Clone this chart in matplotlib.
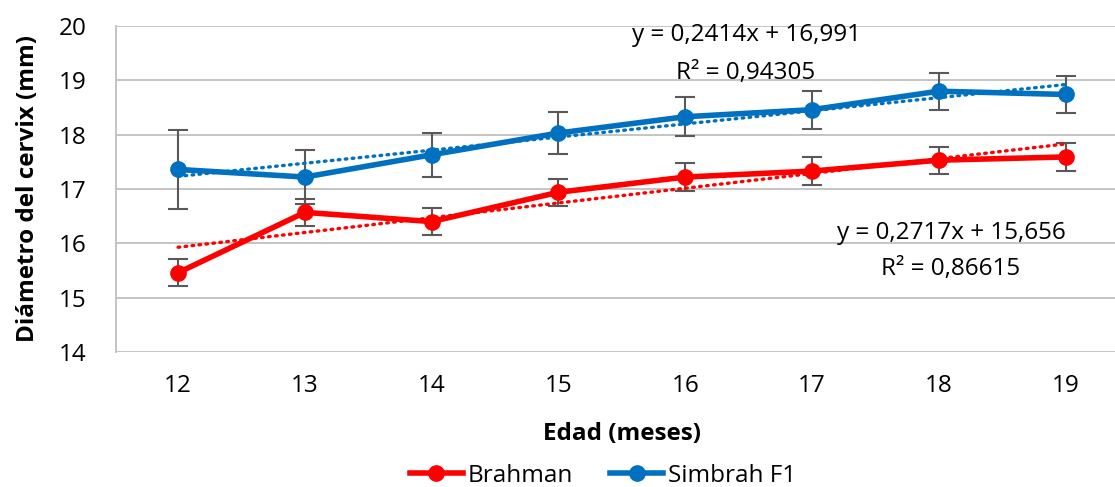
import matplotlib
matplotlib.use("Agg")
import matplotlib.pyplot as plt
from matplotlib.lines import Line2D
import numpy as np

plt.rcParams['font.family'] = ['Open Sans', 'DejaVu Sans']

edad = [12, 13, 14, 15, 16, 17, 18, 19]
brahman = [15.46, 16.57, 16.40, 16.94, 17.22, 17.33, 17.53, 17.59]
brahman_err = [0.25, 0.25, 0.25, 0.25, 0.25, 0.25, 0.25, 0.25]
simbrah = [17.36, 17.22, 17.63, 18.03, 18.33, 18.46, 18.80, 18.74]
simbrah_err = [0.73, 0.50, 0.40, 0.38, 0.36, 0.35, 0.34, 0.34]
brahman_fit = [0.2717, 15.656]
simbrah_fit = [0.2414, 16.991]
brahman_eq = ["y = 0,2717x + 15,656", "R² = 0,86615"]
simbrah_eq = ["y = 0,2414x + 16,991", "R² = 0,94305"]

RED = '#FF0000'
BLUE = '#0070C0'
ERR = '#595959'
GRID = '#BFBFBF'
FS = 17.5

fig = plt.figure(figsize=(11.15, 4.87), dpi=100)
ax = fig.add_axes([116/1115, 1-352/487, 1-116/1115, (352-26)/487])

for vals, err, col, lab in [(brahman, brahman_err, RED, 'Brahman'),
                            (simbrah, simbrah_err, BLUE, 'Simbrah F1')]:
    ax.errorbar(edad, vals, yerr=err, fmt='none', ecolor=ERR, elinewidth=1.5,
                capsize=7, capthick=1.5, zorder=2)
    ax.plot(edad, vals, color=col, lw=4, marker='o', ms=11, label=lab, zorder=3)

idx = np.arange(1, len(edad) + 1)
for fit, col in [(brahman_fit, RED), (simbrah_fit, BLUE)]:
    ax.plot(edad, fit[0] * idx + fit[1], color=col, lw=2.4,
            linestyle=(0, (0.5, 1.6)), dash_capstyle='round', zorder=4)

ax.set_ylim(14, 20)
ax.set_xlim(11.51, 19.39)
ax.set_yticks(range(14, 21))
ax.set_xticks(edad)
ax.grid(axis='y', color=GRID, lw=1.3)
ax.set_axisbelow(True)
for s in ['top', 'right', 'bottom']:
    ax.spines[s].set_visible(False)
ax.spines['left'].set_color(GRID)
ax.spines['left'].set_linewidth(1.3)
ax.tick_params(axis='both', length=0, labelsize=FS, colors='#000000')
ax.tick_params(axis='y', pad=21)
ax.tick_params(axis='x', pad=16)

fig.text(622/1115, 1-434/487, 'Edad (meses)', ha='center', va='center',
         fontsize=FS, fontweight='bold')
fig.text(28/1115, 1-188/487, 'Diámetro del cervix (mm)', ha='center', va='center',
         rotation=90, fontsize=FS, fontweight='bold')

fig.text(746/1115, 1-35/487, simbrah_eq[0], ha='center', va='center', fontsize=FS)
fig.text(746/1115, 1-73/487, simbrah_eq[1], ha='center', va='center', fontsize=FS)
fig.text(951/1115, 1-233/487, brahman_eq[0], ha='center', va='center', fontsize=FS)
fig.text(951/1115, 1-269/487, brahman_eq[1], ha='center', va='center', fontsize=FS)

handles = [Line2D([], [], color=RED, lw=4, marker='o', ms=11),
           Line2D([], [], color=BLUE, lw=4, marker='o', ms=11)]
fig.legend(handles, ['Brahman', 'Simbrah F1'], loc='center',
           bbox_to_anchor=(603/1115, 1-476/487), ncol=2, frameon=False,
           fontsize=FS, handlelength=2.2, handletextpad=0.2, columnspacing=1.5)

fig.savefig('out.png', dpi=100)
